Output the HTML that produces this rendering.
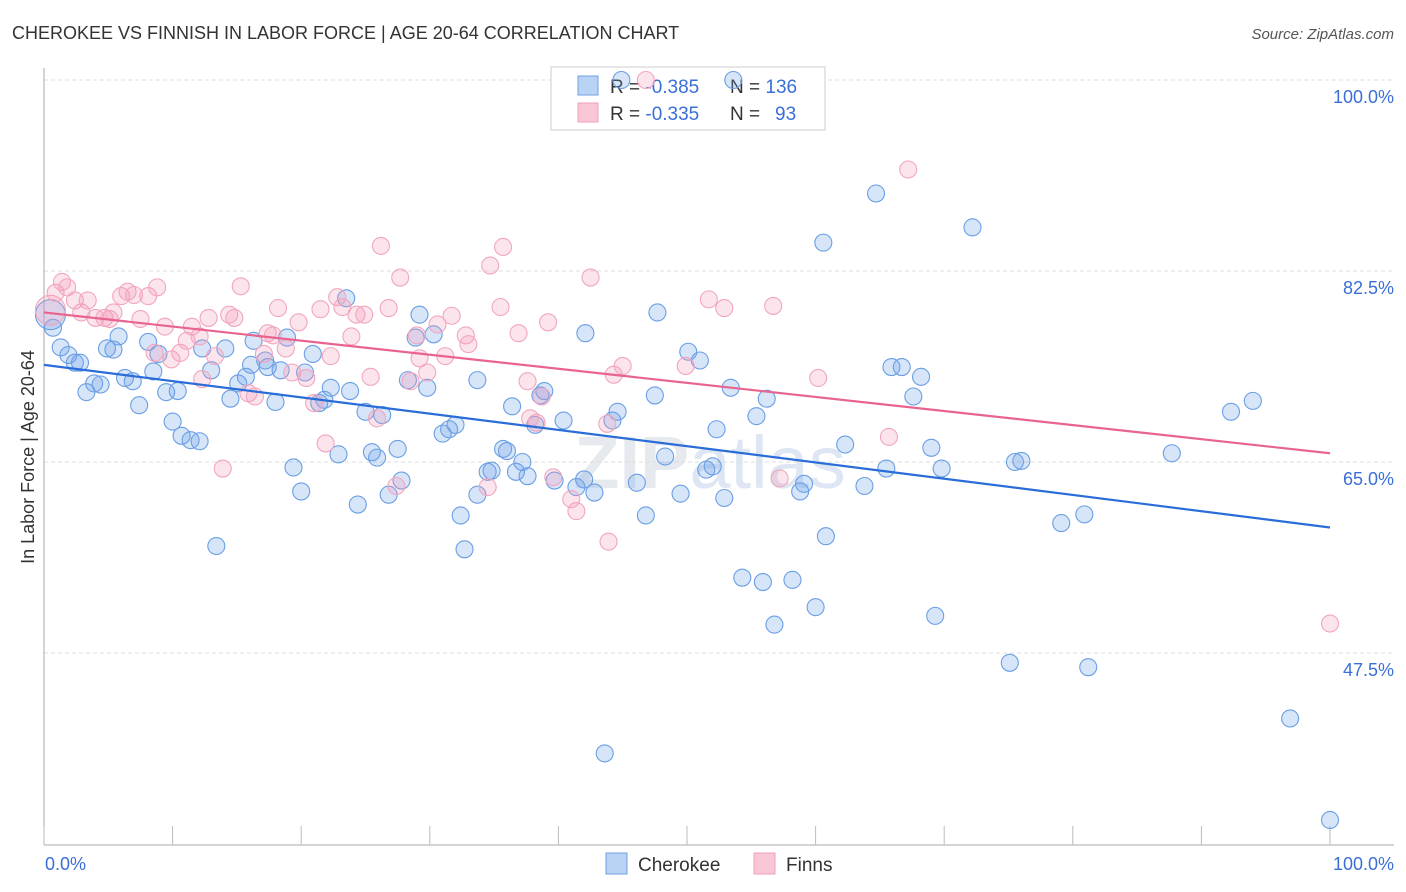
<!DOCTYPE html>
<html><head><meta charset="utf-8"><style>
body{margin:0;background:#fff;font-family:"Liberation Sans",sans-serif;}
#wrap{position:relative;width:1406px;height:892px;overflow:hidden;}
svg text{font-family:"Liberation Sans",sans-serif;}
</style></head><body>
<div id="wrap">
<svg id="chart" width="1406" height="892">
<text x="12" y="39" font-size="18" fill="#333">CHEROKEE VS FINNISH IN LABOR FORCE | AGE 20-64 CORRELATION CHART</text>
<text x="1394" y="39" font-size="15" fill="#555" font-style="italic" text-anchor="end">Source: ZipAtlas.com</text>
<text x="710" y="488" font-size="74" fill="#e6e9ee" text-anchor="middle" font-weight="bold">ZIP<tspan font-weight="normal" fill="#dde6f2">atlas</tspan></text>
<g id="grid"></g><g id="axes"></g>
<g>
<rect x="551" y="67" width="274" height="63" fill="#fff" stroke="#ccc"/>
<rect x="578" y="76" width="20" height="19" fill="#b9d3f5" stroke="#6f9fe0"/>
<rect x="578" y="103" width="20" height="19" fill="#f9c6d6" stroke="#eea0b9"/>
<text x="610" y="93" font-size="19" fill="#333">R = <tspan fill="#3a6fd8">-0.385</tspan><tspan x="730">N = </tspan><tspan fill="#3a6fd8">136</tspan></text>
<text x="610" y="120" font-size="19" fill="#333">R = <tspan fill="#3a6fd8">-0.335</tspan><tspan x="730">N = </tspan><tspan x="775" fill="#3a6fd8">93</tspan></text>
</g>
<g id="pts"></g><g id="lines"></g>
<text transform="translate(34,457) rotate(-90)" font-size="18" fill="#333" text-anchor="middle">In Labor Force | Age 20-64</text>
<text x="45" y="870" font-size="18" fill="#3a6fd8">0.0%</text>
<text x="1394" y="870" font-size="18" fill="#3a6fd8" text-anchor="end">100.0%</text>
<g>
<rect x="606" y="853" width="21" height="21" fill="#b9d3f5" stroke="#6f9fe0"/>
<text x="638" y="871" font-size="19" fill="#333">Cherokee</text>
<rect x="754" y="853" width="21" height="21" fill="#f9c6d6" stroke="#eea0b9"/>
<text x="786" y="871" font-size="19" fill="#333">Finns</text>
</g>
</svg>
</div>
<script>
const yTicks=[100,82.5,65,47.5];
const yTickLabels=["100.0%","82.5%","65.0%","47.5%"];
const xTicks=[0,10,20,30,40,50,60,70,80,90,100];
const cherokeeX=[0.5,0.7,1.3,1.9,2.4,2.8,3.3,3.9,4.4,4.9,5.4,5.8,6.3,6.9,7.4,8.1,8.5,8.9,9.5,10.0,10.4,10.7,11.4,12.1,12.3,13.0,13.4,14.1,14.5,15.1,15.7,16.1,16.3,17.2,17.4,18.0,18.4,18.9,19.4,20.0,20.3,20.9,21.4,21.8,22.3,22.9,23.5,23.8,24.4,25.0,25.5,25.9,26.3,26.8,27.5,27.8,28.3,29.2,28.9,29.8,30.3,31.0,31.5,32.0,32.4,32.7,33.7,33.7,34.5,34.8,35.7,36.0,36.4,36.7,37.2,37.6,38.2,38.6,38.9,39.7,40.4,41.4,42.0,42.8,42.1,43.6,44.2,44.6,46.1,46.8,47.5,47.7,48.3,49.5,50.1,51.0,51.5,52.0,52.3,52.9,53.4,54.3,55.4,55.9,56.2,56.8,58.2,58.8,59.1,60.0,60.6,60.8,62.3,63.8,64.7,65.5,65.9,66.7,67.6,68.2,69.0,69.3,69.8,72.2,75.1,75.5,76.0,79.1,80.9,81.2,87.7,92.3,94.0,96.9,100,44.9,53.6];
const cherokeeY=[78.5,77.3,75.5,74.8,74.1,74.1,71.4,72.2,72.1,75.4,75.3,76.5,72.7,72.4,70.2,76.0,73.3,74.9,71.4,68.7,71.5,67.4,67.0,66.9,75.4,73.4,57.3,75.4,70.8,72.2,72.8,73.9,76.1,74.3,73.7,70.5,73.4,76.4,64.5,62.3,73.2,74.9,70.4,70.7,71.8,65.7,80.0,71.5,61.1,69.6,65.9,65.4,69.3,62.0,66.2,63.3,72.5,78.5,76.4,71.8,76.7,67.6,68.0,68.4,60.1,57.0,72.5,62.0,64.1,64.2,66.2,66.0,70.1,64.1,65.0,63.7,68.4,71.1,71.5,63.3,68.8,62.7,63.4,62.2,76.8,38.3,68.8,69.6,63.1,60.1,71.1,78.7,65.5,62.1,75.1,74.3,64.3,64.6,68.0,61.7,71.8,54.4,69.2,54.0,70.8,50.1,54.2,62.3,63.0,51.7,85.1,58.2,66.6,62.8,89.6,64.4,73.7,73.7,71.0,72.8,66.3,50.9,64.4,86.5,46.6,65.0,65.1,59.4,60.2,46.2,65.8,69.6,70.6,41.5,32.2,100,100];
const finnsX=[0.5,0.9,1.4,1.8,2.4,2.9,3.4,4.0,4.7,5.1,5.4,6.0,6.5,7.0,8.1,7.5,8.8,8.6,9.4,9.9,10.6,11.1,11.5,12.1,12.8,13.3,13.9,12.3,14.4,14.8,15.3,15.9,16.4,17.1,17.4,17.8,18.2,18.8,19.3,19.8,20.4,21.0,21.5,21.9,22.3,22.8,23.2,23.9,24.3,24.9,25.4,25.9,26.2,26.8,27.4,27.7,28.5,29.0,29.2,29.8,30.6,31.2,31.7,32.8,33.0,34.5,34.7,35.5,35.7,36.9,37.6,37.8,38.3,38.7,39.2,39.6,41.0,41.4,42.5,43.8,43.9,44.3,45.0,46.8,49.9,51.7,52.9,56.7,57.2,60.2,65.7,67.2,100];
const finnsY=[78.9,80.5,81.5,81.0,79.8,78.7,79.8,78.2,78.2,78.1,78.7,80.2,80.6,80.3,80.2,78.1,81.0,75.0,77.4,74.4,75.0,76.1,77.4,76.5,78.2,74.7,64.4,72.6,78.5,78.2,81.1,71.3,71.0,74.9,76.8,76.6,79.1,75.4,73.2,77.8,72.7,70.4,79.0,66.7,74.7,80.1,79.2,76.5,78.5,78.5,72.8,69.0,84.8,79.1,62.8,81.9,72.4,76.6,74.5,73.2,77.6,74.7,78.4,76.6,75.8,62.7,83.0,79.2,84.7,76.8,72.4,69.0,68.6,71.0,77.8,63.6,61.6,60.5,81.9,68.5,57.7,73.0,73.8,100,73.8,79.9,79.1,79.3,63.5,72.7,67.3,91.8,50.2];
const trendBlue=[73.9,59.0];
const trendPink=[78.7,65.8];
const NS="http://www.w3.org/2000/svg";
function sx(v){return 44+v*12.86;}
function sy(v){return 80+(100-v)*10.914;}
function mk(tag,attrs,parent){const e=document.createElementNS(NS,tag);for(const k in attrs)e.setAttribute(k,attrs[k]);parent.appendChild(e);return e;}
const grid=document.getElementById('grid'),axes=document.getElementById('axes'),pts=document.getElementById('pts'),lines=document.getElementById('lines');
yTicks.forEach((t,i)=>{
 const l=mk('line',{x1:44,x2:1394,y1:sy(t),y2:sy(t),stroke:'#ddd','stroke-dasharray':'4,3'},grid);
 
 
 const tx=mk('text',{x:1394,y:sy(t)+23,'font-size':18,fill:'#3a6fd8','text-anchor':'end'},grid);
 tx.textContent=yTickLabels[i];
 
 
});
const ya=mk('line',{x1:44,x2:44,y1:68,y2:845,stroke:'#aaa'},axes);


const xa=mk('line',{x1:44,x2:1394,y1:845,y2:845,stroke:'#aaa'},axes);


xTicks.forEach(t=>{
 const l=mk('line',{x1:sx(t),x2:sx(t),y1:826,y2:845,stroke:'#bbb'},axes);
 
 
});
function drawPts(X,Y,fill,stroke,name){
 X.forEach((x,i)=>{
  const big=(i===0);
  const c=mk('circle',{cx:sx(x),cy:sy(Y[i]),r:big?15:8.5,fill:fill,stroke:stroke,'stroke-width':1.1},pts);
  
  
 });
}
drawPts(cherokeeX,cherokeeY,'rgba(110,160,235,0.28)','#6a9fe4','cherokee-point');
drawPts(finnsX,finnsY,'rgba(245,150,180,0.26)','#f2a6be','finns-point');
const lb=mk('line',{x1:sx(0),y1:sy(trendBlue[0]),x2:sx(100),y2:sy(trendBlue[1]),stroke:'#2a6dd8','stroke-width':2.2},lines);


const lp=mk('line',{x1:sx(0),y1:sy(trendPink[0]),x2:sx(100),y2:sy(trendPink[1]),stroke:'#e8648f','stroke-width':2.2},lines);


</script>
</body></html>
